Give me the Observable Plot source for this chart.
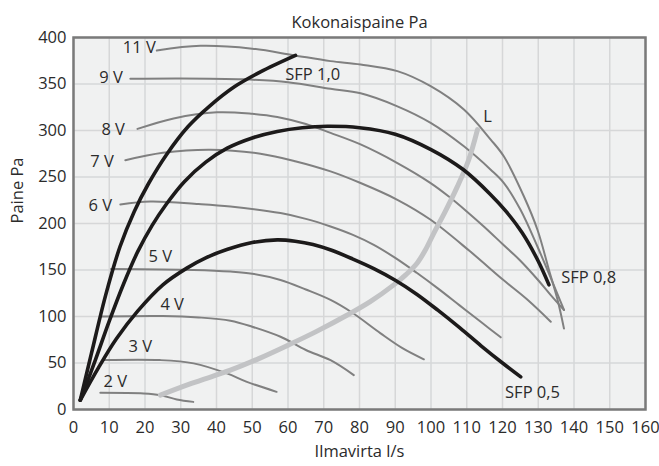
<!DOCTYPE html>
<html>
<head>
<meta charset="utf-8">
<script src="https://cdn.jsdelivr.net/npm/d3@7"></script>
<script src="https://cdn.jsdelivr.net/npm/@observablehq/plot@0.6"></script>
<style>
  html, body { margin: 0; padding: 0; background: #ffffff; }
  #chart svg { display: block; }
</style>
</head>
<body>
<div id="chart"></div>
<script>
// ---- Tick values ----
const xTicks = [0, 10, 20, 30, 40, 50, 60, 70, 80, 90, 100, 110, 120, 130, 140, 150, 160];
const yTicks = [0, 50, 100, 150, 200, 250, 300, 350, 400];

// ---- Fan curves (voltage) : [airflow l/s, pressure Pa] ----
const fan2V = [[7.5,17.9],[19.6,17.2],[24.3,15.4],[28.9,10.8],[33.5,8.2]];
const fan3V = [[8.4,53.1],[24.3,53.1],[33.6,49.6],[42.9,38.8],[48.5,29.7],[56.8,19]];
const fan4V = [[7.9,100],[25,100.5],[35,99],[43.9,95.5],[50,89],[57.9,78.2],[65,64],[71.9,53],[78.4,37]];
const fan5V = [[10.5,151],[33.6,150],[43.9,148.3],[50,146],[57.9,139.3],[65,129],[71.9,117.8],[78,104],[85.9,81.9],[92,66],[98,54]];
const fan6V = [[13.1,220.5],[21.5,223.7],[35,221],[43.9,218.3],[57.9,211.2],[65,205],[71.9,196.8],[78,188],[84,177],[90,163],[96,147],[102,130],[108,112],[114,94],[119.5,77.6]];
const fan7V = [[14.5,268],[25,276],[38.3,279.4],[52.3,275],[62,267],[71.9,256],[80.3,243.5],[90.6,225.5],[99.9,204],[111,169.8],[120,140],[127,118],[133.5,94.4]];
const fan8V = [[17.9,301.7],[28,313],[40.1,319.6],[50,318],[57,314.6],[65,307],[71.9,297.4],[80.3,285],[90.6,265],[99.9,243.5],[105,229],[110,213],[115,196],[120,178],[125,160],[130,139],[133.5,123],[137.2,107]];
const fan9V = [[15.9,355.6],[30,356],[47.6,355],[60,352],[71.9,344.8],[80.3,340],[90.6,326],[99.9,308.2],[109.2,283],[116.7,257.9],[120.4,243.5],[125,215],[129.8,175],[137.2,107]];
const fan11V = [[23.3,386],[35.5,391],[50,388],[61.5,381],[71.9,374.6],[80.3,371],[90.6,363.8],[99.9,347.6],[109.2,322.5],[116.7,290.2],[120.4,272],[126,229],[129.8,193],[133,150],[135.4,118],[137.2,87]];

// ---- SFP curves ----
const sfp10 = [[1.9,10],[5,60],[9,123],[13,175],[17,213],[21,243],[26,274],[32,304],[38,326],[45,347],[52.3,363],[62.1,380.7]];
const sfp08 = [[1.9,10],[6,52],[10,95],[14,135],[18,170],[22,198],[26,221],[31,245],[37,266],[43,281],[50,292],[57,299],[64,303],[71,304.5],[80,303],[90,296],[100,279.5],[109,258],[116.7,231],[121,213],[125.5,190],[129.8,161],[133,134]];
const sfp05 = [[1.9,10],[7,45],[12,76],[18,106],[25,134],[31.7,152],[37,163],[42.9,172],[50,179.5],[57,182.4],[62,181],[67,177.5],[72,171.5],[78,162],[84,151.5],[90,139],[96,124],[102,106.5],[108,88],[114,68.5],[120,50],[125.1,35.1]];

// ---- L curve ----
const lCurve = [[24.3,15.4],[33,28],[43.9,42.3],[52,55],[60.7,70.4],[68,84],[76.6,101.6],[83,116],[89.6,134],[93,145],[96.1,157.3],[98.5,172],[100.8,189.7],[104,213],[107.4,239.9],[110.5,268],[113,301]];

// ---- Curve labels ----
const labelText = ["11 V", "9 V", "8 V", "7 V", "6 V", "5 V", "4 V", "3 V", "2 V", "SFP 1,0", "SFP 0,8", "SFP 0,5", "L"];
const labelX = [18.4, 10.5, 11.1, 8.0, 7.5, 24.3, 27.6, 18.7, 11.7, 66.9, 144.1, 128.4, 115.8];
const labelY = [389.3, 357, 301, 266.5, 219, 164, 112.5, 67, 29.4, 360, 141.5, 17.6, 315];

const titleText = "Kokonaispaine Pa";
const xLabel = "Ilmavirta l/s";
const yLabel = "Paine Pa";

// ---- Build tables ----
const toRows = (series, pts) => pts.map(([x, y]) => ({series, x, y}));
const fanRows = [
  ...toRows("2 V", fan2V), ...toRows("3 V", fan3V), ...toRows("4 V", fan4V),
  ...toRows("5 V", fan5V), ...toRows("6 V", fan6V), ...toRows("7 V", fan7V),
  ...toRows("8 V", fan8V), ...toRows("9 V", fan9V), ...toRows("11 V", fan11V)
];
const sfpRows = [...toRows("SFP 1,0", sfp10), ...toRows("SFP 0,8", sfp08), ...toRows("SFP 0,5", sfp05)];
const lRows = toRows("L", lCurve);
const labels = labelText.map((t, i) => ({t, x: labelX[i], y: labelY[i]}));

const FONT = "'Open Sans', sans-serif";
const TXT = "#2b2b2b";
const FS = 16.5;

const chart = Plot.plot({
  width: 659,
  height: 466,
  marginLeft: 73,
  marginRight: 14,
  marginTop: 37,
  marginBottom: 57,
  style: {fontFamily: FONT, fontSize: FS + "px", color: TXT, background: "#ffffff"},
  x: {domain: [0, 160], ticks: xTicks, tickSize: 0, tickPadding: 12, label: null},
  y: {domain: [0, 400], ticks: yTicks, tickSize: 0, tickPadding: 7, label: null},
  marks: [
    Plot.frame({fill: "#f0f1f1", stroke: null}),
    Plot.ruleX(xTicks, {stroke: "#d6d7d8", strokeWidth: 1.5}),
    Plot.ruleY(yTicks, {stroke: "#d6d7d8", strokeWidth: 1.5}),
    Plot.line(fanRows, {x: "x", y: "y", z: "series", stroke: "#808080", strokeWidth: 2, curve: "catmull-rom"}),
    Plot.line(lRows, {x: "x", y: "y", z: "series", stroke: "#c2c3c5", strokeWidth: 5, curve: "catmull-rom"}),
    Plot.line(sfpRows, {x: "x", y: "y", z: "series", stroke: "#1c1a1a", strokeWidth: 3.6, curve: "catmull-rom"}),
    Plot.frame({stroke: "#7a7a7a", strokeWidth: 2.5}),
    Plot.text(labels, {x: "x", y: "y", text: "t", fill: TXT, fontSize: FS}),
    Plot.text([titleText], {text: d => d, frameAnchor: "top", dy: -21, fill: TXT, fontSize: FS}),
    Plot.text([xLabel], {text: d => d, frameAnchor: "bottom", dy: 47, fill: TXT, fontSize: FS}),
    Plot.text([yLabel], {text: d => d, frameAnchor: "left", dx: -56, rotate: -90, fill: TXT, fontSize: FS})
  ]
});
document.getElementById("chart").appendChild(chart);
</script>
</body>
</html>
